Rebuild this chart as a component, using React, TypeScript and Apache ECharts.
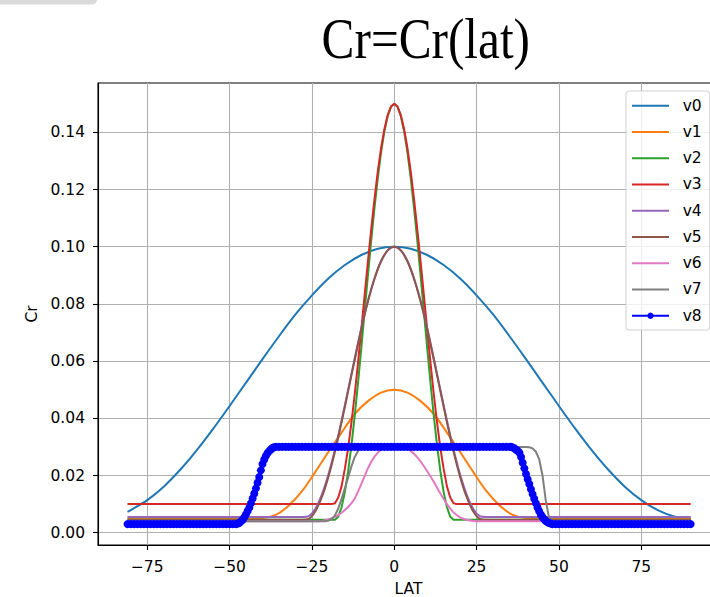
import React, { useEffect, useRef } from 'react';
import * as echarts from 'echarts';

// ---------- data ----------
const SERIES_NAMES = ['v0', 'v1', 'v2', 'v3', 'v4', 'v5', 'v6', 'v7', 'v8'];
const COLORS = ['#1f77b4', '#ff7f0e', '#2ca02c', '#d62728', '#9467bd', '#8c564b', '#e377c2', '#7f7f7f', '#0000ff'];
const SMOOTH = [0.3, 0.3, 0, 0, 0.3, 0.3, 0.3, 0, 0];

const X_TICKS = [-75, -50, -25, 0, 25, 50, 75];
const Y_TICKS = [0, 0.02, 0.04, 0.06, 0.08, 0.1, 0.12, 0.14];

const V0_LAT = [-81, -80, -75, -70, -65, -60, -55, -50, -45, -40, -35, -30, -25, -20, -15, -10, -5, 0, 5, 10, 15, 20, 25, 30, 35, 40, 45, 50, 55, 60, 65, 70, 75, 80, 85, 90];
const V0 = [0.0073, 0.0079, 0.0114, 0.0161, 0.0220, 0.0288, 0.0363, 0.0443, 0.0525, 0.0607, 0.0687, 0.0763, 0.0830, 0.0889, 0.0936, 0.0971, 0.0993, 0.1000, 0.0993, 0.0971, 0.0936, 0.0889, 0.0830, 0.0763, 0.0687, 0.0607, 0.0525, 0.0443, 0.0363, 0.0288, 0.0220, 0.0161, 0.0114, 0.0079, 0.0057, 0.0050];

const V1_LAT = [-81, -44, -40, -36, -32, -28, -24, -20, -16, -12, -8, -4, 0, 4, 8, 12, 16, 20, 24, 28, 32, 36, 40, 44, 90];
const V1 = [0.0050, 0.0050, 0.0051, 0.0062, 0.0095, 0.0145, 0.0212, 0.0282, 0.0350, 0.0415, 0.0460, 0.0490, 0.0500, 0.0490, 0.0460, 0.0415, 0.0350, 0.0282, 0.0212, 0.0145, 0.0095, 0.0062, 0.0051, 0.0050, 0.0050];

const V2_LAT = [-81, -18, -17, -16, -15, -14, -13, -12, -11, -10, -9, -8, -7, -6, -5, -4, -3, -2, -1, 0, 1, 2, 3, 4, 5, 6, 7, 8, 9, 10, 11, 12, 13, 14, 15, 16, 17, 18, 90];
const V2 = [0.0045, 0.0045, 0.0056, 0.0089, 0.0142, 0.0215, 0.0305, 0.0409, 0.0524, 0.0646, 0.0773, 0.0899, 0.1021, 0.1136, 0.1240, 0.1330, 0.1403, 0.1456, 0.1489, 0.1500, 0.1489, 0.1456, 0.1403, 0.1330, 0.1240, 0.1136, 0.1021, 0.0899, 0.0773, 0.0646, 0.0524, 0.0409, 0.0305, 0.0215, 0.0142, 0.0089, 0.0056, 0.0045, 0.0045];

const V3_LAT = [-81, -19, -18, -17, -16, -15, -14, -13, -12, -11, -10, -9, -8, -7, -6, -5, -4, -3, -2, -1, 0, 1, 2, 3, 4, 5, 6, 7, 8, 9, 10, 11, 12, 13, 14, 15, 16, 17, 18, 19, 90];
const V3 = [0.0100, 0.0100, 0.0103, 0.0123, 0.0162, 0.0223, 0.0296, 0.0385, 0.0485, 0.0595, 0.0711, 0.0830, 0.0948, 0.1061, 0.1167, 0.1263, 0.1345, 0.1411, 0.1460, 0.1490, 0.1500, 0.1490, 0.1460, 0.1411, 0.1345, 0.1263, 0.1167, 0.1061, 0.0948, 0.0830, 0.0711, 0.0595, 0.0485, 0.0385, 0.0296, 0.0223, 0.0162, 0.0123, 0.0103, 0.0100, 0.0100];

const V45_LAT = [-81, -28, -26, -24, -22, -20, -18, -16, -14, -12, -10, -8, -6, -4, -2, 0, 2, 4, 6, 8, 10, 12, 14, 16, 18, 20, 22, 24, 26, 28, 90];
const V4 = [0.0055, 0.0055, 0.0058, 0.0083, 0.0133, 0.0203, 0.0291, 0.0392, 0.0500, 0.0610, 0.0715, 0.0810, 0.0889, 0.0950, 0.0987, 0.1000, 0.0987, 0.0950, 0.0889, 0.0810, 0.0715, 0.0610, 0.0500, 0.0392, 0.0291, 0.0203, 0.0133, 0.0083, 0.0058, 0.0055, 0.0055];
const V5 = [0.0045, 0.0045, 0.0048, 0.0074, 0.0124, 0.0195, 0.0284, 0.0386, 0.0495, 0.0605, 0.0712, 0.0808, 0.0888, 0.0949, 0.0987, 0.1000, 0.0987, 0.0949, 0.0888, 0.0808, 0.0712, 0.0605, 0.0495, 0.0386, 0.0284, 0.0195, 0.0124, 0.0074, 0.0048, 0.0045, 0.0045];

const V6_LAT = [-81, -24, -22, -20, -18, -16, -14, -12, -10, -8, -6, -4, -2, 0, 2, 4, 6, 8, 10, 12, 14, 16, 18, 20, 22, 24, 26, 28, 90];
const V6 = [0.0040, 0.0040, 0.0041, 0.0046, 0.0055, 0.0070, 0.0090, 0.0120, 0.0170, 0.0225, 0.0266, 0.0290, 0.0299, 0.0300, 0.0299, 0.0294, 0.0276, 0.0249, 0.0215, 0.0178, 0.0137, 0.0100, 0.0071, 0.0054, 0.0045, 0.0041, 0.0040, 0.0040, 0.0040];

const V7_LAT = [-81, -21, -20, -19, -18, -17, -16, -15, -14, -13, -12, -11, -10, -9, 40, 41, 42, 43, 44, 45, 46, 47, 48, 49, 90];
const V7 = [0.0040, 0.0040, 0.0042, 0.0048, 0.0060, 0.0085, 0.0118, 0.0155, 0.0193, 0.0232, 0.0265, 0.0286, 0.0297, 0.0300, 0.0300, 0.0299, 0.0295, 0.0283, 0.0257, 0.0201, 0.0113, 0.0052, 0.0041, 0.0040, 0.0040];

const V8_LAT = [
  // -81 .. -48
  -81, -80, -79, -78, -77, -76, -75, -74, -73, -72,
  -71, -70, -69, -68, -67, -66, -65, -64, -63, -62,
  -61, -60, -59, -58, -57, -56, -55, -54, -53, -52,
  -51, -50, -49, -48,
  // -47.5 .. -36 (half degrees)
  -47.5, -47, -46.5, -46, -45.5, -45, -44.5, -44, -43.5, -43,
  -42.5, -42, -41.5, -41, -40.5, -40, -39.5, -39, -38.5, -38,
  -37.5, -37, -36.5, -36,
  // -35 .. 35
  -35, -34, -33, -32, -31, -30, -29, -28, -27, -26,
  -25, -24, -23, -22, -21, -20, -19, -18, -17, -16,
  -15, -14, -13, -12, -11, -10, -9, -8, -7, -6,
  -5, -4, -3, -2, -1, 0, 1, 2, 3, 4,
  5, 6, 7, 8, 9, 10, 11, 12, 13, 14,
  15, 16, 17, 18, 19, 20, 21, 22, 23, 24,
  25, 26, 27, 28, 29, 30, 31, 32, 33, 34,
  35,
  // 35.5 .. 48 (half degrees)
  35.5, 36, 36.5, 37, 37.5, 38, 38.5, 39, 39.5, 40,
  40.5, 41, 41.5, 42, 42.5, 43, 43.5, 44, 44.5, 45,
  45.5, 46, 46.5, 47, 47.5, 48,
  // 49 .. 90
  49, 50, 51, 52, 53, 54, 55, 56, 57, 58,
  59, 60, 61, 62, 63, 64, 65, 66, 67, 68,
  69, 70, 71, 72, 73, 74, 75, 76, 77, 78,
  79, 80, 81, 82, 83, 84, 85, 86, 87, 88,
  89, 90,
];
const V8 = [
  // -81 .. -48
  0.003, 0.003, 0.003, 0.003, 0.003, 0.003, 0.003, 0.003, 0.003, 0.003,
  0.003, 0.003, 0.003, 0.003, 0.003, 0.003, 0.003, 0.003, 0.003, 0.003,
  0.003, 0.003, 0.003, 0.003, 0.003, 0.003, 0.003, 0.003, 0.003, 0.003,
  0.003, 0.003, 0.003, 0.003,
  // -47.5 .. -36
  0.0032, 0.0035, 0.0040, 0.0045, 0.0054, 0.0065, 0.0076, 0.0088, 0.0103, 0.0120,
  0.0137, 0.0155, 0.0175, 0.0195, 0.0218, 0.0240, 0.0256, 0.0268, 0.0278, 0.0285,
  0.0291, 0.0296, 0.0299, 0.0300,
  // -35 .. 35
  0.030, 0.030, 0.030, 0.030, 0.030, 0.030, 0.030, 0.030, 0.030, 0.030,
  0.030, 0.030, 0.030, 0.030, 0.030, 0.030, 0.030, 0.030, 0.030, 0.030,
  0.030, 0.030, 0.030, 0.030, 0.030, 0.030, 0.030, 0.030, 0.030, 0.030,
  0.030, 0.030, 0.030, 0.030, 0.030, 0.030, 0.030, 0.030, 0.030, 0.030,
  0.030, 0.030, 0.030, 0.030, 0.030, 0.030, 0.030, 0.030, 0.030, 0.030,
  0.030, 0.030, 0.030, 0.030, 0.030, 0.030, 0.030, 0.030, 0.030, 0.030,
  0.030, 0.030, 0.030, 0.030, 0.030, 0.030, 0.030, 0.030, 0.030, 0.030,
  0.030,
  // 35.5 .. 48
  0.0300, 0.0298, 0.0295, 0.0290, 0.0286, 0.0280, 0.0265, 0.0245, 0.0225, 0.0205,
  0.0187, 0.0170, 0.0152, 0.0135, 0.0119, 0.0103, 0.0088, 0.0075, 0.0064, 0.0055,
  0.0047, 0.0041, 0.0037, 0.0034, 0.0032, 0.0030,
  // 49 .. 90
  0.003, 0.003, 0.003, 0.003, 0.003, 0.003, 0.003, 0.003, 0.003, 0.003,
  0.003, 0.003, 0.003, 0.003, 0.003, 0.003, 0.003, 0.003, 0.003, 0.003,
  0.003, 0.003, 0.003, 0.003, 0.003, 0.003, 0.003, 0.003, 0.003, 0.003,
  0.003, 0.003, 0.003, 0.003, 0.003, 0.003, 0.003, 0.003, 0.003, 0.003,
  0.003, 0.003,
];

const SERIES_LATS = [V0_LAT, V1_LAT, V2_LAT, V3_LAT, V45_LAT, V45_LAT, V6_LAT, V7_LAT, V8_LAT];
const SERIES_VALUES = [V0, V1, V2, V3, V4, V5, V6, V7, V8];

const zip = (xs: number[], ys: number[]) => xs.map((x, i) => [x, ys[i]]);

const FONT = 'DejaVu Sans';
const FS = 15.5;

export default function App() {
  const ref = useRef<HTMLDivElement>(null);

  useEffect(() => {
    if (!ref.current) return;
    const chart = echarts.init(ref.current, null, { renderer: 'svg' });

    const series: any[] = SERIES_NAMES.map((name, i) => {
      const isMarker = i === 8;
      return {
        name,
        type: 'line',
        data: zip(SERIES_LATS[i], SERIES_VALUES[i]),
        smooth: SMOOTH[i] || false,
        symbol: isMarker ? 'circle' : 'none',
        symbolSize: isMarker ? 8 : 0,
        showSymbol: isMarker,
        showAllSymbol: true,
        color: COLORS[i],
        itemStyle: { color: COLORS[i] },
        lineStyle: { color: COLORS[i], width: 2 },
        silent: true,
        emphasis: { disabled: true },
        z: 2 + i,
      };
    });

    const legendData = SERIES_NAMES.map((name, i) =>
      i === 8 ? { name } : { name, itemStyle: { opacity: 0 } }
    );

    chart.setOption({
      animation: false,
      backgroundColor: '#ffffff',
      grid: {
        left: 98,
        top: 83,
        width: 621,
        height: 462,
        show: true,
        borderColor: '#000000',
        borderWidth: 1.1,
        backgroundColor: 'transparent',
        outerBoundsMode: 'none',
        containLabel: false,
      },
      xAxis: {
        type: 'value',
        min: -89.95,
        max: 98.6,
        name: 'LAT',
        nameLocation: 'middle',
        nameGap: 36,
        nameTextStyle: { fontFamily: FONT, fontSize: FS, color: '#000' },
        axisLine: { show: true, onZero: false, lineStyle: { color: '#000', width: 1.1 } },
        axisTick: { show: true, inside: false, length: 5, customValues: X_TICKS, lineStyle: { color: '#000', width: 1.1 } },
        axisLabel: {
          customValues: X_TICKS,
          margin: 13.5,
          fontFamily: FONT,
          fontSize: FS,
          color: '#000',
          formatter: (v: number) => (v < 0 ? '\u2212' + Math.abs(v) : String(v)),
        },
        splitLine: { show: true, lineStyle: { color: '#b0b0b0', width: 1.1 } },
      },
      yAxis: {
        type: 'value',
        min: -0.0043,
        max: 0.15724,
        name: 'Cr',
        nameLocation: 'middle',
        nameGap: 58,
        nameRotate: 90,
        nameTextStyle: { fontFamily: FONT, fontSize: FS, color: '#000' },
        axisLine: { show: true, onZero: false, lineStyle: { color: '#000', width: 1.1 } },
        axisTick: { show: true, inside: false, length: 5, customValues: Y_TICKS, lineStyle: { color: '#000', width: 1.1 } },
        axisLabel: {
          customValues: Y_TICKS,
          margin: 13,
          fontFamily: FONT,
          fontSize: FS,
          color: '#000',
          formatter: (v: number) => v.toFixed(2),
        },
        splitLine: { show: true, lineStyle: { color: '#b0b0b0', width: 1.1 } },
      },
      legend: {
        data: legendData,
        orient: 'vertical',
        left: 626,
        top: 91,
        padding: [6.7, 8, 6.3, 5],
        itemWidth: 37,
        itemHeight: 8,
        itemGap: 10.25,
        selectedMode: false,
        backgroundColor: 'rgba(255,255,255,0.8)',
        borderColor: '#d0d0d0',
        borderWidth: 1,
        borderRadius: 3,
        textStyle: {
          fontFamily: FONT,
          fontSize: FS,
          color: '#000',
          lineHeight: 16,
          padding: [0, 0, 0, 8.7],
        },
      },
      graphic: [
        {
          type: 'rect',
          shape: { x: -10, y: -10, width: 107, height: 14.5, r: 5 },
          style: { fill: '#dadada' },
          silent: true,
        },
        {
          type: 'text',
          x: 425.8,
          y: 39,
          scaleX: 0.88,
          style: {
            text: 'Cr=Cr(lat)',
            fontFamily: 'Liberation Serif',
            fontSize: 56,
            fill: '#000',
            align: 'center',
            verticalAlign: 'middle',
            textAlign: 'center',
            textVerticalAlign: 'middle',
          },
          silent: true,
        },
      ],
      series,
    });

    return () => chart.dispose();
  }, []);

  return (
    <div
      ref={ref}
      style={{ position: 'absolute', left: 0, top: 0, width: 710, height: 597, overflow: 'hidden' }}
    />
  );
}
